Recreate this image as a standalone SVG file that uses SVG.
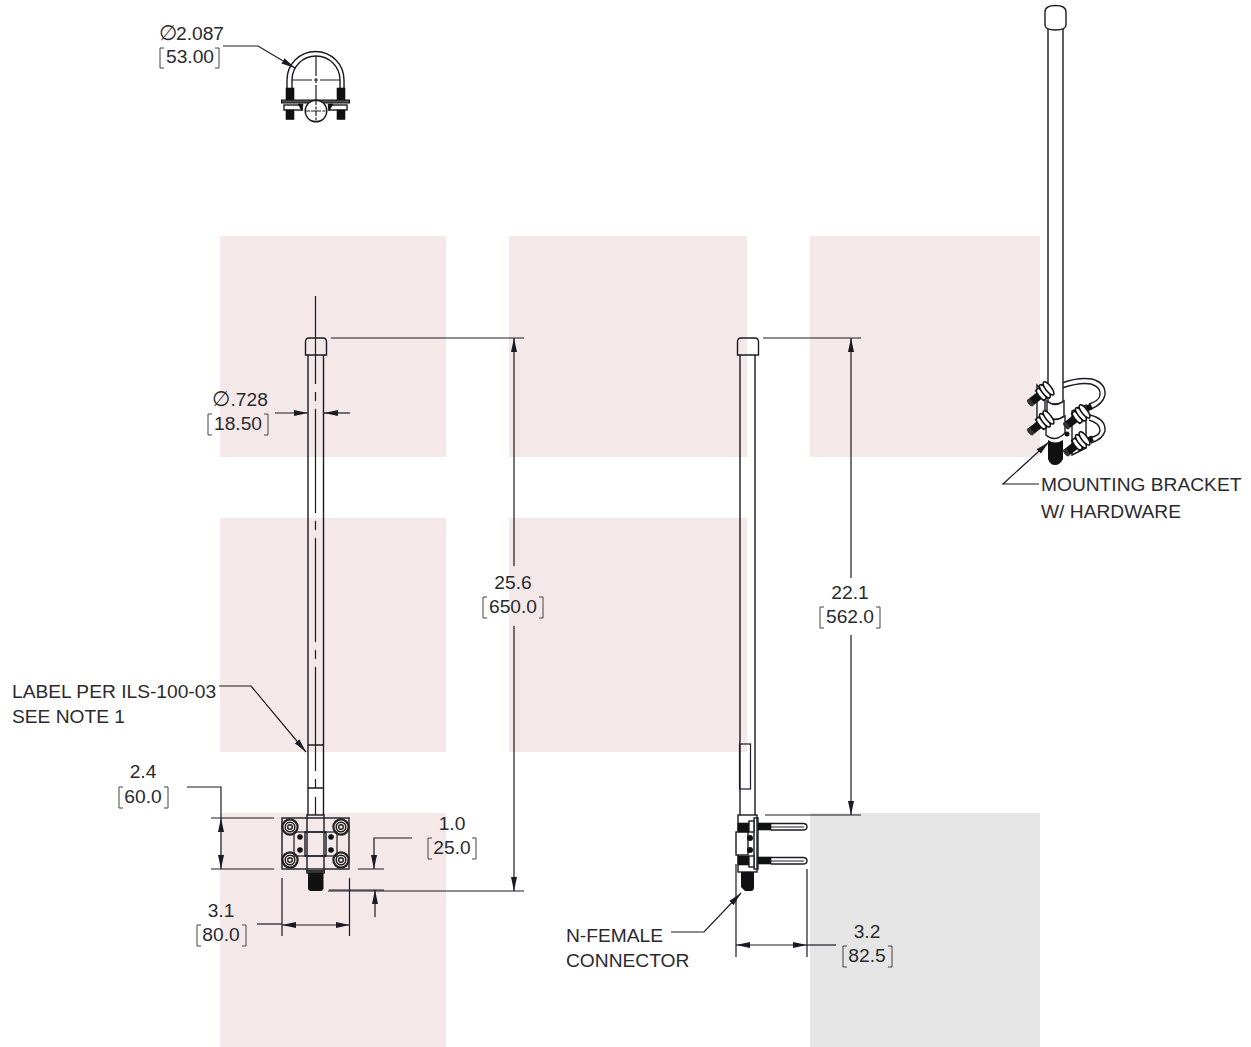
<svg xmlns="http://www.w3.org/2000/svg" width="1251" height="1047" viewBox="0 0 1251 1047">
<style>
.p{fill:#f4e8e8}.g{fill:#e5e5e5}
.o{fill:none;stroke:#1a1a24;stroke-width:1.4}
.w{fill:#fff;stroke:#1a1a24;stroke-width:1.4}
.n{fill:none;stroke:#1a1a24;stroke-width:1.2}
.k{fill:#111;stroke:#111;stroke-width:.6}
.t{font-family:"Liberation Sans",Arial,sans-serif;font-size:19.2px;fill:#2a2a30}
.m{text-anchor:middle}
.b{fill:none;stroke:#444;stroke-width:1}
</style>
<defs>
<marker id="a" markerWidth="15" markerHeight="7" refX="14" refY="3.500" orient="auto-start-reverse" markerUnits="userSpaceOnUse"><path d="M0 .5L14 3.500L0 6.500Z" fill="#1a1a24"/></marker>
<g id="bolt"><circle r="7.600" fill="none" stroke="#222" stroke-width="2.200"/><circle r="4.800" fill="none" stroke="#222" stroke-width="1.500"/><circle r="2.300" fill="none" stroke="#222" stroke-width="1.400"/></g>
<g id="stud"><g transform="rotate(-38) scale(1.150)"><rect x="-14" y="-3.500" width="9" height="7" fill="#111"/><ellipse cx="-15" cy="0" rx="2" ry="3.800" fill="#333"/><path d="M-5-5.500H5V5.500H-5Z" fill="#fff" stroke="#111" stroke-width="1.300"/><ellipse cx="-3" cy="0" rx="2.500" ry="5.800" fill="#fff" stroke="#111" stroke-width="1.300"/><ellipse cx="1" cy="0" rx="2.500" ry="7" fill="#fff" stroke="#111" stroke-width="1.300"/><ellipse cx="5" cy="0" rx="2.500" ry="7" fill="#fff" stroke="#111" stroke-width="1.300"/></g></g>
</defs>
<g id="backdrop">
<rect class="p" x="220" y="236" width="226" height="221"/>
<rect class="p" x="509" y="236" width="238" height="221"/>
<rect class="p" x="810" y="236" width="230" height="221"/>
<rect class="p" x="220" y="518" width="226" height="234"/>
<rect class="p" x="509" y="518" width="238" height="234"/>
<rect class="p" x="220" y="813" width="226" height="234"/>
<rect class="g" x="810" y="813" width="230" height="234"/>
</g>
<g id="ubolt">
<path class="o" d="M287 88V80A28.500 28.500 0 0 1 344 80V88"/>
<path class="o" d="M292 88V80A24 24 0 0 1 340 80V88"/>
<path class="n" d="M316 56V76M316 78V83M316 85V122M292 80H312M314 80H318M320 80H340"/>
<rect class="k" x="286" y="88" width="8" height="12"/><rect class="k" x="337" y="88" width="8" height="12"/>
<rect x="281.500" y="100" width="68" height="3" fill="#555" stroke="#111"/>
<rect class="w" x="284" y="105" width="18" height="5"/><rect class="w" x="329" y="105" width="18" height="5"/>
<rect class="k" x="286" y="110" width="8" height="9.500"/><rect class="k" x="337" y="110" width="8" height="9.500"/>
<path class="k" d="M298 104L303 104L302 111ZM333 104L328 104L329 111Z"/>
<circle class="w" cx="316" cy="111" r="10.800"/>
<path class="n" d="M316 100V122M305 111H327M311 111H321" stroke-dasharray="5 1.500 3 1.500"/>
</g>
<g id="front-view">
<path class="o" d="M308 355V815M323.500 355V815"/>
<path class="o" d="M305.500 355V342Q305.500 338 309 338H323Q326.500 338 326.500 342V355Z"/>
<path class="o" d="M308 745H323.500M308 788H323.500"/>
<rect class="o" x="282" y="818" width="67" height="51"/>
<rect class="n" x="294" y="832" width="43" height="24" stroke="#666"/>
<rect class="o" x="307" y="815" width="17" height="58"/>
<rect class="o" x="305" y="832" width="21" height="24"/>
<rect x="306" y="870" width="19" height="3" fill="#333"/>
<use href="#bolt" x="290" y="827"/><use href="#bolt" x="341" y="827"/><use href="#bolt" x="290" y="860"/><use href="#bolt" x="341" y="860"/>
<circle cx="300" cy="837" r="2.800" fill="#111"/><circle cx="300" cy="850" r="2.800" fill="#111"/><circle cx="331" cy="837" r="2.800" fill="#111"/><circle cx="331" cy="850" r="2.800" fill="#111"/>
<path d="M308 873H323.500V888Q323.500 891 320 891H311Q308 891 308 888Z" fill="#111"/>
</g>
<g id="side-view">
<path class="o" d="M740 355V815M755 355V815"/>
<path class="o" d="M737.500 355V342Q737.500 338 741 338H755Q758.500 338 758.500 342V355Z"/>
<rect class="n" x="739.500" y="744" width="11" height="45"/>
<rect class="o" x="738" y="815" width="19" height="57"/>
<rect class="o" x="754" y="818" width="4" height="51"/>
<rect class="w" x="736" y="832" width="12" height="23"/>
<rect class="k" x="738" y="823" width="11" height="9"/><rect class="k" x="738" y="856" width="11" height="9"/>
<rect class="w" x="749" y="821" width="5" height="11"/><rect class="w" x="749" y="856" width="5" height="11"/>
<circle cx="750" cy="838" r="3" fill="#111"/><circle cx="750" cy="850" r="3" fill="#111"/>
<path class="o" d="M771 823.500H803Q807 823.500 807 827Q807 830 803 830H771"/>
<path class="o" d="M771 857.500H803Q807 857.500 807 861Q807 864 803 864H771"/>
<path class="n" d="M771 827H804M771 861H804" stroke-width=".8" stroke="#777"/>
<rect class="k" x="758" y="823" width="13" height="7"/><rect class="k" x="758" y="857" width="13" height="7"/>
<path d="M741 872H754V887Q754 891 751 891H745L741 887Z" fill="#111"/>
</g>
<g id="iso-view">
<path class="o" d="M1062 383Q1078 377 1092 379Q1106 383 1105 395Q1103 404 1091 409"/>
<path class="o" d="M1062 388Q1080 382 1091 384Q1101 387 1100 395Q1099 401 1089 404"/>
<path class="o" d="M1090 415Q1106 419 1105 431Q1103 439 1091 443"/>
<path class="o" d="M1089 420Q1100 423 1100 431Q1099 436 1089 438"/>
<rect x="1084" y="405" width="8" height="6" fill="#111" transform="rotate(-25 1088 408)"/><rect x="1085" y="437" width="8" height="6" fill="#111" transform="rotate(-25 1089 440)"/>
<path class="w" d="M1037 385L1045 392V428L1037 421Z"/>
<path class="w" d="M1048 28V402Q1055 406 1063 402V28Z"/>
<path class="w" d="M1045 12Q1045 5.500 1055.500 5.500Q1066 5.500 1066 12V25Q1066 30 1055.500 30Q1045 30 1045 25Z"/>
<path class="w" d="M1047 401Q1055 408 1064 401V416Q1055 423 1047 416Z"/>
<path class="w" d="M1046 416Q1055 423 1065 416V433Q1055 443 1046 435Z"/>
<path class="w" d="M1072 411L1086 405V448L1072 455Z"/>
<path d="M1048 440Q1055 445 1063 440V459Q1060 465 1055 465Q1050 465 1048 459Z" fill="#111"/>
<use href="#stud" x="1044" y="392"/>
<use href="#stud" x="1044" y="421"/>
<use href="#stud" x="1080" y="415"/>
<use href="#stud" x="1080" y="442"/>
<circle cx="1067" cy="434" r="2.500" fill="#111"/>
</g>
<g id="connectors">
<path class="n" d="M315.500 296V384M315.500 392V401M315.500 409V513M315.500 521V530M315.500 538V642M315.500 650V659M315.500 667V771M315.500 779V788M315.500 797V815"/>
<path class="n" d="M331 338H524M328 891H524"/>
<path class="n" d="M514 566V338" marker-end="url(#a)"/>
<path class="n" d="M514 626V891" marker-end="url(#a)"/>
<path class="n" d="M275 413H308" marker-end="url(#a)"/>
<path class="n" d="M350 413H324" marker-end="url(#a)"/>
<path class="n" d="M763 338H861M765 815H861"/>
<path class="n" d="M851 578V338" marker-end="url(#a)"/>
<path class="n" d="M851 635V815" marker-end="url(#a)"/>
<path class="n" d="M223 46H258L295 68" marker-end="url(#a)"/>
<path class="n" d="M219 686H251L306 752" marker-end="url(#a)"/>
<path class="n" d="M187 787H221V818M211 818H274M211 869H274"/>
<path class="n" d="M221 818V869" marker-start="url(#a)" marker-end="url(#a)"/>
<path class="n" d="M282 878V936M349.500 878V936"/>
<path class="n" d="M282 925H349.500" marker-start="url(#a)" marker-end="url(#a)"/>
<path class="n" d="M257 924H282"/>
<path class="n" d="M358 869H384M329 890H384"/>
<path class="n" d="M374 869V838H412" marker-start="url(#a)"/>
<path class="n" d="M375 890V917" marker-start="url(#a)"/>
<path class="n" d="M671 932H704L741 893" marker-end="url(#a)"/>
<path class="n" d="M736 864V957M807 869V957"/>
<path class="n" d="M736 945H807" marker-start="url(#a)" marker-end="url(#a)"/>
<path class="n" d="M807 945H836"/>
<path class="n" d="M1039 484H1003L1049 442" marker-end="url(#a)"/>
</g>
<g id="labels">
<text class="t" x="159" y="40"><tspan font-size="21">∅</tspan></text><text class="t" x="176" y="40">2.087</text>
<text class="t m" x="190" y="63">53.00</text><path class="b" d="M164 48H160V68H164M215 48H219V68H215"/>
<text class="t" x="212" y="406"><tspan font-size="21">∅</tspan></text><text class="t" x="230.500" y="406">.728</text>
<text class="t m" x="238" y="430">18.50</text><path class="b" d="M212 414H208V435H212M264 414H268V435H264"/>
<text class="t m" x="513" y="589">25.6</text>
<text class="t m" x="513" y="613">650.0</text><path class="b" d="M487 597H483V618H487M539 597H543V618H539"/>
<text class="t m" x="850" y="599">22.1</text>
<text class="t m" x="850" y="623">562.0</text><path class="b" d="M824 607H820V628H824M876 607H880V628H876"/>
<text class="t" x="12" y="698">LABEL PER ILS-100-03</text>
<text class="t" x="12" y="723">SEE NOTE 1</text>
<text class="t m" x="143" y="778">2.4</text>
<text class="t m" x="143" y="803">60.0</text><path class="b" d="M123 787H119V808H123M164 787H168V808H164"/>
<text class="t m" x="452" y="830">1.0</text>
<text class="t m" x="452" y="854">25.0</text><path class="b" d="M432 838H428V859H432M472 838H476V859H472"/>
<text class="t m" x="221" y="917">3.1</text>
<text class="t m" x="221" y="941">80.0</text><path class="b" d="M201 925H197V946H201M242 925H246V946H242"/>
<text class="t" x="566" y="942">N-FEMALE</text>
<text class="t" x="566" y="967">CONNECTOR</text>
<text class="t m" x="867" y="938">3.2</text>
<text class="t m" x="867" y="962">82.5</text><path class="b" d="M847 946H843V967H847M888 946H892V967H888"/>
<text class="t" x="1041" y="491">MOUNTING BRACKET</text>
<text class="t" x="1041" y="518">W/ HARDWARE</text>
</g>
</svg>
